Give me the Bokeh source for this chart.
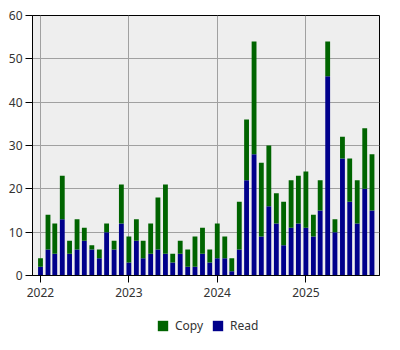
from datetime import datetime, timedelta
from bokeh.plotting import figure
from bokeh.layouts import column
from bokeh.models import (ColumnDataSource, Legend, LegendItem, FixedTicker,
                          DatetimeTickFormatter, Range1d)
from bokeh.embed import file_html
from bokeh.resources import INLINE

months = [
    "2022-01", "2022-02", "2022-03", "2022-04", "2022-05", "2022-06",
    "2022-07", "2022-08", "2022-09", "2022-10", "2022-11", "2022-12",
    "2023-01", "2023-02", "2023-03", "2023-04", "2023-05", "2023-06",
    "2023-07", "2023-08", "2023-09", "2023-10", "2023-11", "2023-12",
    "2024-01", "2024-02", "2024-03", "2024-04", "2024-05", "2024-06",
    "2024-07", "2024-08", "2024-09", "2024-10", "2024-11", "2024-12",
    "2025-01", "2025-02", "2025-03", "2025-04", "2025-05", "2025-06",
    "2025-07", "2025-08", "2025-09", "2025-10",
]
read = [2, 6, 5, 13, 5, 6, 8, 6, 4, 10, 6, 12,
        3, 8, 4, 5, 6, 5, 3, 5, 2, 2, 5, 3,
        4, 4, 1, 6, 22, 28, 9, 16, 12, 7, 11, 12,
        11, 9, 15, 46, 10, 27, 17, 12, 20, 15]
copy = [2, 8, 7, 10, 3, 7, 3, 1, 2, 2, 2, 9,
        6, 5, 4, 7, 12, 16, 2, 3, 4, 7, 6, 3,
        8, 5, 3, 11, 14, 26, 17, 14, 7, 10, 11, 11,
        13, 5, 7, 8, 3, 5, 10, 10, 14, 13]
series = ["Read", "Copy"]
tick_years = [2022, 2023, 2024, 2025]
y_ticks = [0, 10, 20, 30, 40, 50, 60]

GREEN = "#006400"
BLUE = "#00008B"
FONT = "Noto Sans"

dates = [datetime.strptime(m, "%Y-%m") for m in months]
source = ColumnDataSource(dict(month=dates, Read=read, Copy=copy))

x_start = dates[0] - timedelta(days=33)
x_end = dates[-1] + timedelta(days=31)
bar_w = timedelta(days=20).total_seconds() * 1000

p = figure(width=400, height=310, x_axis_type="datetime",
           x_range=Range1d(x_start, x_end), y_range=Range1d(0, 60),
           output_backend="svg", toolbar_location=None,
           min_border_left=32, min_border_right=21, min_border_top=15,
           min_border_bottom=35)

rs = p.vbar_stack(series, x="month", width=bar_w, color=[BLUE, GREEN],
                  line_color=None, source=source)

p.background_fill_color = "#EEEEEE"
p.border_fill_color = "white"
p.outline_line_color = "black"
p.outline_line_width = 1
p.outline_line_alpha = 1

p.xaxis.ticker = FixedTicker(ticks=[datetime(y, 1, 1).timestamp() * 1000 for y in tick_years])
p.xaxis.formatter = DatetimeTickFormatter(years="%Y", months="%Y", days="%Y",
                                          hours="%Y", minutes="%Y", seconds="%Y")
p.yaxis.ticker = FixedTicker(ticks=y_ticks)

for ax in (p.xaxis, p.yaxis):
    ax.axis_line_color = "black"
    ax.major_tick_line_color = "black"
    ax.major_tick_out = 7
    ax.major_tick_in = 0
    ax.minor_tick_line_color = None
    ax.major_label_text_font = FONT
    ax.major_label_text_font_size = "12px"
    ax.major_label_text_color = "#333333"
p.yaxis.major_label_standoff = 3
p.xaxis.major_label_standoff = 5

p.xgrid.ticker = p.xaxis.ticker
p.ygrid.ticker = p.yaxis.ticker
for g in (p.xgrid, p.ygrid):
    g.grid_line_color = "#A0A0A0"
    g.grid_line_width = 1

# separate strip for the legend, below the chart
lf = figure(width=400, height=40, x_axis_type="datetime",
            x_range=Range1d(x_start, x_end), y_range=Range1d(0, 60),
            output_backend="svg", toolbar_location=None,
            x_axis_location=None, y_axis_location=None,
            min_border=0)
lf.xgrid.visible = False
lf.ygrid.visible = False
lf.outline_line_color = None
lf.background_fill_color = "white"
lf.border_fill_color = "white"
lrs = lf.vbar_stack(series, x="month", width=bar_w, color=[BLUE, GREEN],
                    line_color=None, source=source)
for r in lrs:
    r.visible = False

legend = Legend(items=[LegendItem(label="Copy", renderers=[lrs[1]]),
                       LegendItem(label="Read", renderers=[lrs[0]])],
                orientation="horizontal", location=(124, 16))
legend.glyph_width = 13
legend.glyph_height = 13
legend.label_text_font = FONT
legend.label_text_font_size = "12px"
legend.label_text_color = "#333333"
legend.label_standoff = 6
legend.spacing = 8
legend.padding = 0
legend.margin = 0
legend.border_line_color = None
legend.background_fill_alpha = 0
lf.add_layout(legend)

layout = column(p, lf, spacing=0)
open("out.html", "w").write(file_html(layout, INLINE))
